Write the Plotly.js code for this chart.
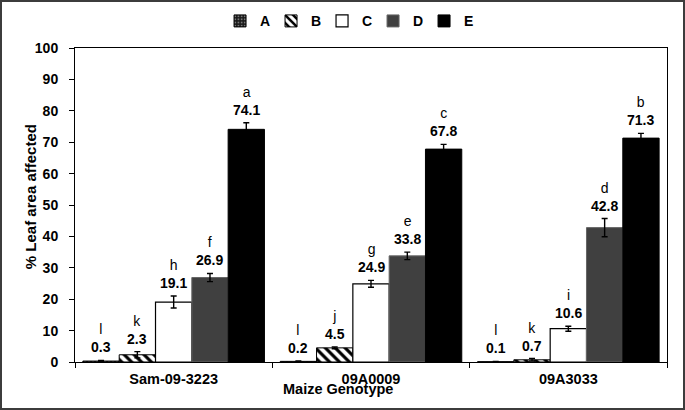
<!DOCTYPE html>
<html>
<head>
<meta charset="utf-8">
<script src="https://cdn.plot.ly/plotly-3.0.1.min.js"></script>
<style>
  html, body { margin: 0; padding: 0; background: #fff; }
  #chart { width: 681px; height: 406px; border: 2px solid #3c3c3c; }
</style>
</head>
<body>
<div id="chart"></div>
<script>
const genotypes = ["Sam-09-3223", "09A0009", "09A3033"];
const seriesNames = ["A", "B", "C", "D", "E"];

// mean % leaf area affected, per series, in genotype order
const valuesA = [0.3, 0.2, 0.1];
const valuesB = [2.3, 4.5, 0.7];
const valuesC = [19.1, 24.9, 10.6];
const valuesD = [26.9, 33.8, 42.8];
const valuesE = [74.1, 67.8, 71.3];

// standard error bars
const errA = [0.2, 0.1, 0.1];
const errB = [1.0, 0.3, 0.4];
const errC = [1.9, 1.1, 0.8];
const errD = [1.3, 1.2, 2.9];
const errE = [2.1, 1.5, 1.5];

// significance letters
const lettersA = ["l", "l", "l"];
const lettersB = ["k", "j", "k"];
const lettersC = ["h", "g", "i"];
const lettersD = ["f", "e", "d"];
const lettersE = ["a", "c", "b"];

const values = [valuesA, valuesB, valuesC, valuesD, valuesE];
const errs = [errA, errB, errC, errD, errE];
const letters = [lettersA, lettersB, lettersC, lettersD, lettersE];

const font = "Liberation Sans, Arial, sans-serif";
const barGap = 0.08;

// look of each series
const markers = [
    { color: "#1a1a1a", line: { color: "#000", width: 1 },
      pattern: { shape: ".", fgcolor: "#777", bgcolor: "#1a1a1a", size: 4, solidity: 0.3 } },
    { color: "#fff", line: { color: "#000", width: 1 },
      pattern: { shape: "\\", fgcolor: "#000", bgcolor: "#fff", size: 7, solidity: 0.45 } },
    { color: "#fff", line: { color: "#000", width: 1.2 } },
    { color: "#404040", line: { color: "#666", width: 1 } },
    { color: "#000", line: { color: "#000", width: 1 } },
];

const data = seriesNames.map((name, j) => ({
    type: "bar",
    name: name,
    x: genotypes,
    y: values[j],
    marker: markers[j],
    error_y: { type: "data", array: errs[j], visible: true, color: "#000", thickness: 1.4, width: 3 },
    hoverinfo: "y",
}));

// letter + value labels above each error bar
const barW = (1 - barGap) / seriesNames.length;
const annotations = [];
seriesNames.forEach((name, j) => {
    genotypes.forEach((g, i) => {
        annotations.push({
            x: i + (j - 2) * barW,
            y: values[j][i] + errs[j][i],
            xref: "x", yref: "y",
            text: letters[j][i] + "<br><b>" + values[j][i].toFixed(1) + "</b>",
            showarrow: false,
            yanchor: "bottom",
            yshift: 3,
            font: { family: font, size: 14, color: "#000" },
        });
    });
});

// axis titles
annotations.push({
    text: "<b>Maize Genotype</b>",
    xref: "paper", yref: "paper",
    x: 0.444, y: -0.086,
    xanchor: "center", yanchor: "middle",
    showarrow: false,
    font: { family: font, size: 14.5, color: "#000" },
});
annotations.push({
    text: "<b>% Leaf area affected</b>",
    xref: "paper", yref: "paper",
    x: -0.076, y: 0.525,
    xanchor: "center", yanchor: "middle",
    textangle: -90,
    showarrow: false,
    font: { family: font, size: 15, color: "#000" },
});

const layout = {
    width: 681,
    height: 406,
    margin: { l: 73, r: 16, t: 46, b: 46, autoexpand: false },
    paper_bgcolor: "#fff",
    plot_bgcolor: "#fff",
    font: { family: font, size: 13, color: "#000" },
    barmode: "group",
    bargap: barGap,
    bargroupgap: 0,
    showlegend: true,
    legend: {
        orientation: "h",
        x: 0.245, xanchor: "left",
        y: 1.085, yanchor: "middle",
        font: { family: font, size: 14, color: "#000", weight: "bold" },
        entrywidth: 6,
        itemwidth: 30,
    },
    xaxis: {
        type: "category",
        showline: true,
        linecolor: "#000",
        linewidth: 1,
        mirror: true,
        ticks: "outside",
        tickson: "boundaries",
        ticklen: 5,
        tickcolor: "#000",
        ticklabelstandoff: 4,
        tickfont: { family: font, size: 14.5, color: "#000", weight: "bold" },
        showgrid: false,
        zeroline: false,
    },
    yaxis: {
        range: [0, 100],
        dtick: 10,
        showline: true,
        linecolor: "#000",
        linewidth: 1,
        mirror: true,
        ticks: "outside",
        ticklen: 5,
        tickcolor: "#000",
        ticklabelstandoff: 8,
        tickfont: { family: font, size: 14, color: "#000", weight: "bold" },
        showgrid: false,
        zeroline: false,
    },
    annotations: annotations,
};

Plotly.newPlot("chart", data, layout, { displayModeBar: false });
</script>
</body>
</html>
